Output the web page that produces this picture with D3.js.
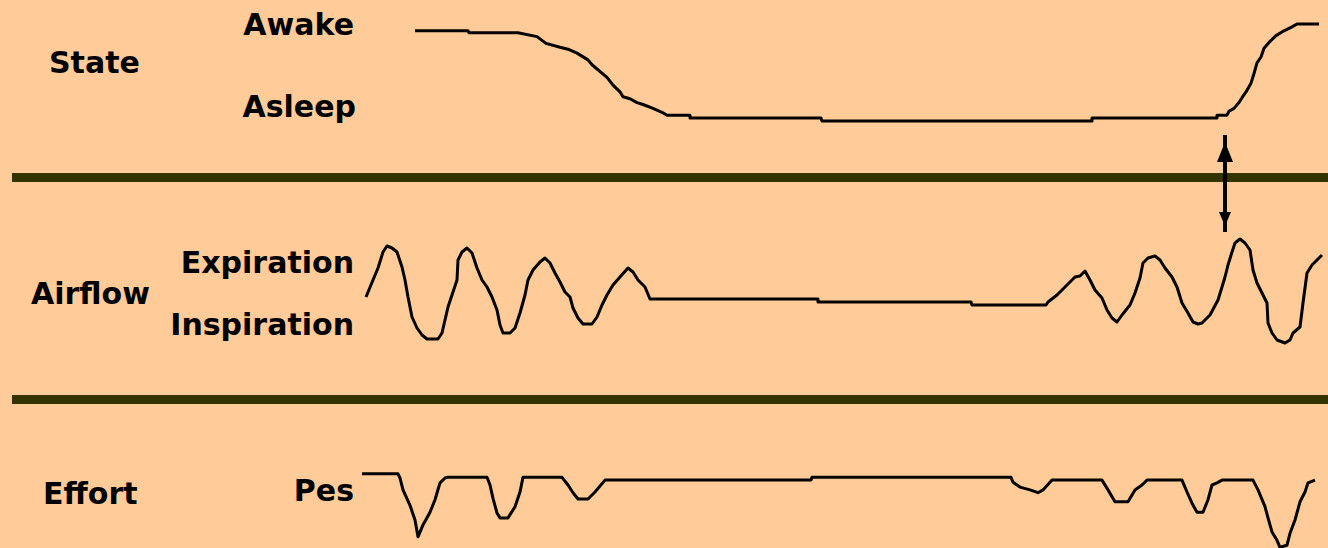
<!DOCTYPE html>
<html>
<head>
<meta charset="utf-8">
<script src="https://cdn.jsdelivr.net/npm/d3@7"></script>
<style>
  html, body { margin: 0; padding: 0; background: #ffcc99; }
  svg { display: block; }
</style>
</head>
<body>
<div id="chart"></div>
<script>
// Sleep onset / arousal trace: time in arbitrary units (0..96)
const stateTrace = [
  [5.5, 0.93], [10.8, 0.93], [10.9, 0.91], [15.8, 0.91], [17.7, 0.87], [18.6, 0.80],
  [20.0, 0.76], [20.8, 0.74], [21.7, 0.70], [22.8, 0.63], [23.2, 0.58], [24.7, 0.45],
  [25.3, 0.37], [26.0, 0.30], [26.3, 0.25], [27.0, 0.23], [27.7, 0.19], [28.3, 0.17],
  [29.3, 0.13], [30.2, 0.09], [30.7, 0.06], [33.0, 0.06], [33.0, 0.03], [46.1, 0.03],
  [46.2, 0], [73.2, 0], [73.2, 0.03], [85.7, 0.03], [85.7, 0.06], [86.7, 0.06],
  [86.9, 0.10], [87.4, 0.13], [87.9, 0.19], [88.2, 0.24], [88.6, 0.30], [89.1, 0.39],
  [89.4, 0.49], [89.7, 0.60], [90.1, 0.66], [90.4, 0.75], [90.9, 0.81], [91.6, 0.88],
  [92.4, 0.93], [93.2, 0.97], [93.7, 1.0], [95.9, 1.0]
]

// Airflow: positive = expiration, negative = inspiration
const airflowTrace = [
  [0.6, 0.06], [1.3, 0.40], [1.8, 0.64], [2.3, 0.96], [2.7, 1.08], [3.2, 1.04],
  [3.7, 0.96], [4.2, 0.66], [4.5, 0.40], [4.8, 0.06], [5.2, -0.34], [5.7, -0.56],
  [6.2, -0.70], [6.7, -0.78], [7.8, -0.78], [8.2, -0.66], [8.5, -0.40], [8.8, -0.14],
  [9.2, 0.10], [9.7, 0.40], [9.8, 0.80], [10.2, 0.96], [10.7, 1.04], [11.2, 0.94],
  [11.7, 0.64], [12.2, 0.40], [12.7, 0.26], [13.2, 0.06], [13.7, -0.20], [14.0, -0.50],
  [14.3, -0.66], [15.0, -0.66], [15.5, -0.56], [16.0, -0.26], [16.5, 0.10], [16.8, 0.40],
  [17.3, 0.60], [18.0, 0.76], [18.5, 0.84], [19.0, 0.74], [19.5, 0.54], [20.0, 0.36],
  [20.5, 0.16], [21.0, 0.06], [21.3, -0.16], [21.8, -0.36], [22.3, -0.48], [23.2, -0.48],
  [23.7, -0.34], [24.2, -0.10], [24.7, 0.10], [25.3, 0.30], [26.0, 0.46], [26.8, 0.64],
  [27.3, 0.56], [27.8, 0.40], [28.5, 0.26], [29.0, 0.02], [45.8, 0.02], [45.8, -0.04],
  [61.1, -0.04], [61.2, -0.10], [68.6, -0.10], [68.8, -0.04], [69.7, 0.10], [70.7, 0.30],
  [71.5, 0.46], [72.0, 0.48], [72.5, 0.58], [73.0, 0.40], [73.5, 0.20], [74.2, 0.04],
  [74.7, -0.20], [75.2, -0.36], [75.7, -0.44], [76.2, -0.30], [77.0, -0.10], [77.5, 0.14],
  [78.0, 0.44], [78.3, 0.74], [78.8, 0.84], [79.5, 0.88], [80.0, 0.80], [80.5, 0.64],
  [81.2, 0.46], [81.7, 0.26], [82.2, -0.06], [82.8, -0.26], [83.3, -0.44], [83.8, -0.48],
  [84.2, -0.46], [85.0, -0.30], [85.8, 0], [86.2, 0.26], [86.5, 0.46], [86.8, 0.70],
  [87.2, 0.96], [87.5, 1.14], [88.0, 1.22], [88.5, 1.14], [89.0, 1.00], [89.3, 0.60],
  [89.7, 0.34], [90.2, 0.14], [90.7, -0.06], [90.8, -0.46], [91.2, -0.66], [91.7, -0.80],
  [92.5, -0.86], [93.0, -0.80], [93.3, -0.66], [94.0, -0.54], [94.3, -0.06], [94.7, 0.54],
  [95.2, 0.70], [96.2, 0.90]
]

// Esophageal pressure (Pes): negative swings = inspiratory effort
const effortTrace = [
  [0.2, 0.06], [3.8, 0.06], [4.0, 0], [4.3, -0.17], [5.0, -0.39], [5.5, -0.60],
  [5.8, -0.84], [6.3, -0.67], [7.0, -0.49], [7.5, -0.31], [8.0, -0.07], [8.5, 0],
  [8.7, 0.01], [12.7, 0.01], [13.0, -0.10], [13.3, -0.29], [13.7, -0.50], [14.0, -0.57],
  [14.8, -0.57], [15.5, -0.41], [16.0, -0.20], [16.3, 0.01], [20.2, 0.01], [20.8, -0.10],
  [21.3, -0.21], [21.8, -0.30], [22.8, -0.30], [23.5, -0.20], [24.5, -0.03], [45.1, -0.03],
  [45.2, 0.01], [65.1, 0.01], [65.3, -0.06], [66.0, -0.13], [67.0, -0.17], [67.8, -0.21],
  [68.3, -0.17], [69.2, -0.03], [74.2, -0.03], [74.8, -0.17], [75.5, -0.34], [76.8, -0.34],
  [77.5, -0.17], [78.2, -0.10], [78.7, -0.03], [82.2, -0.03], [82.7, -0.20], [83.2, -0.36],
  [83.7, -0.49], [84.3, -0.49], [84.8, -0.31], [85.2, -0.10], [85.7, -0.07], [86.2, -0.03],
  [89.3, -0.03], [89.8, -0.17], [90.5, -0.41], [90.8, -0.57], [91.2, -0.77], [91.7, -0.89],
  [92.0, -0.99], [92.7, -0.96], [93.0, -0.79], [93.5, -0.60], [94.0, -0.34], [94.5, -0.20],
  [94.8, -0.07], [95.5, -0.03]
]

const arousalTime = 86.5

const panelTitles = ["State", "Airflow", "Effort"]
const stateLabels = ["Awake", "Asleep"]
const airflowLabels = ["Expiration", "Inspiration"]
const effortLabels = ["Pes"]

const W = 1328, H = 548
const BG = "#ffcc99"
const BAR = "#333300"
const INK = "#000"
const FONT = "'DejaVu Sans', sans-serif"

const svg = d3.select("#chart").append("svg")
  .attr("width", W).attr("height", H)

svg.append("rect").attr("width", W).attr("height", H).attr("fill", BG)

const x = d3.scaleLinear().domain([0, 96]).range([360, 1320])
const yState = d3.scaleLinear().domain([0, 1]).range([121, 24])
const yAir = d3.scaleLinear().domain([-1, 1]).range([350, 250])
const yEffort = d3.scaleLinear().domain([-1, 0]).range([548, 478])

// Separator bars between panels
svg.selectAll(".sep")
  .data([177.5, 399.5])
  .join("rect")
  .attr("class", "sep")
  .attr("x", 12).attr("y", d => d - 4.5)
  .attr("width", W - 12).attr("height", 9)
  .attr("fill", BAR)

function trace(data, y) {
  svg.append("path")
    .datum(data)
    .attr("fill", "none")
    .attr("stroke", INK)
    .attr("stroke-width", 3)
    .attr("stroke-linejoin", "round")
    .attr("d", d3.line().x(d => x(d[0])).y(d => y(d[1])))
}

trace(stateTrace, yState)
trace(airflowTrace, yAir)
trace(effortTrace, yEffort)

// Labels
function label(txt, px, py, anchor) {
  svg.append("text")
    .attr("x", px).attr("y", py)
    .attr("text-anchor", anchor || "start")
    .attr("font-family", FONT)
    .attr("font-weight", "bold")
    .attr("font-size", "30px")
    .attr("fill", INK)
    .text(txt)
}

label(panelTitles[0], 49, 73)
label(panelTitles[1], 31, 304)
label(panelTitles[2], 43, 504)

label(stateLabels[0], 354, 35, "end")
label(stateLabels[1], 356, 117, "end")
label(airflowLabels[0], 354, 273, "end")
label(airflowLabels[1], 354, 335, "end")
label(effortLabels[0], 354, 501, "end")

// Double-headed arousal arrow
const ax = x(arousalTime)
svg.append("line")
  .attr("x1", ax).attr("x2", ax)
  .attr("y1", 135).attr("y2", 232)
  .attr("stroke", INK).attr("stroke-width", 4)
svg.append("path")
  .attr("d", `M${ax},142 L${ax - 8},162 L${ax + 8},162 Z`)
  .attr("fill", INK)
svg.append("path")
  .attr("d", `M${ax},226 L${ax - 6},212 L${ax + 6},212 Z`)
  .attr("fill", INK)
</script>
</body>
</html>
